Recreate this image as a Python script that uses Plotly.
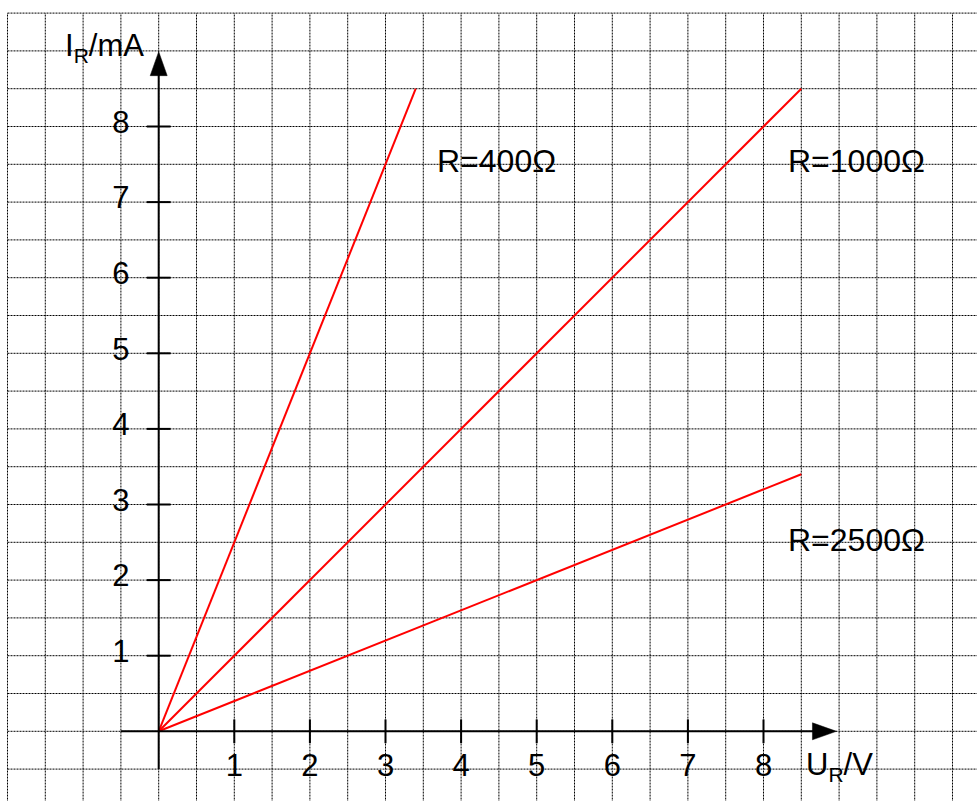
import plotly.graph_objects as go

# ---- data ----
u_r400 = [0, 3.4]
i_r400 = [0, 8.5]
u_r1000 = [0, 8.5]
i_r1000 = [0, 8.5]
u_r2500 = [0, 8.5]
i_r2500 = [0, 3.4]

x_ticks = [1, 2, 3, 4, 5, 6, 7, 8]
y_ticks = [1, 2, 3, 4, 5, 6, 7, 8]
x_tick_labels = ["1", "2", "3", "4", "5", "6", "7", "8"]
y_tick_labels = ["1", "2", "3", "4", "5", "6", "7", "8"]

curve_labels = ["R=400Ω", "R=1000Ω", "R=2500Ω"]
curve_label_x = [4.47, 9.23, 9.23]
curve_label_y = [7.55, 7.55, 2.53]

# ---- layout geometry ----
W, H = 977, 801
PX = 75.6          # pixels per unit
OX, OY = 158.7, 731.3  # origin in pixels
xr = [-OX / PX, (W - OX) / PX]
yr = [(OY - H) / PX, OY / PX]

FONT = "Liberation Sans, Arial, Helvetica, sans-serif"

fig = go.Figure()

shapes = []
grid_line = dict(color="black", width=1, dash="2px,1px")
gx0, gy1 = -2.0, 9.5
k = 0
while gx0 + 0.5 * k <= xr[1]:
    xv = gx0 + 0.5 * k
    shapes.append(dict(type="line", xref="x", yref="y", x0=xv, x1=xv, y0=yr[0] - 0.1, y1=gy1,
                       line=grid_line, layer="below"))
    k += 1
k = 0
while gy1 - 0.5 * k >= yr[0]:
    yv = gy1 - 0.5 * k
    shapes.append(dict(type="line", xref="x", yref="y", x0=gx0, x1=xr[1] + 0.1, y0=yv, y1=yv,
                       line=grid_line, layer="below"))
    k += 1

# axis lines
shapes.append(dict(type="line", xref="x", yref="y", x0=-0.5, x1=8.7, y0=0, y1=0,
                   line=dict(color="black", width=2)))
shapes.append(dict(type="line", xref="x", yref="y", x0=0, x1=0, y0=-0.5, y1=8.7,
                   line=dict(color="black", width=2)))
# arrowheads
ah_len, ah_half = 24 / PX, 8.5 / PX
tipx, tipy = 8.965, 8.99
shapes.append(dict(type="path", xref="x", yref="y",
                   path=f"M {tipx} 0 L {tipx-ah_len} {ah_half} L {tipx-ah_len} {-ah_half} Z",
                   fillcolor="black", line=dict(color="black", width=0.5)))
shapes.append(dict(type="path", xref="x", yref="y",
                   path=f"M 0 {tipy} L {ah_half} {tipy-ah_len} L {-ah_half} {tipy-ah_len} Z",
                   fillcolor="black", line=dict(color="black", width=0.5)))

# resistor lines
for u, i in [(u_r400, i_r400), (u_r1000, i_r1000), (u_r2500, i_r2500)]:
    fig.add_trace(go.Scatter(x=u, y=i, mode="lines", line=dict(color="#ff0000", width=2),
                             hoverinfo="skip", showlegend=False))

# tick marks
fig.add_trace(go.Scatter(x=x_ticks, y=[0] * len(x_ticks), mode="markers",
                         marker=dict(symbol="line-ns", size=17, line=dict(color="black", width=2)),
                         hoverinfo="skip", showlegend=False))
fig.add_trace(go.Scatter(x=[0] * len(y_ticks), y=y_ticks, mode="markers",
                         marker=dict(symbol="line-ew", size=17, line=dict(color="black", width=2)),
                         hoverinfo="skip", showlegend=False))

# tick labels
fig.add_trace(go.Scatter(x=x_ticks, y=[-0.49] * len(x_ticks), mode="text", text=x_tick_labels,
                         textposition="middle center",
                         textfont=dict(family=FONT, size=31, color="black"),
                         hoverinfo="skip", showlegend=False))
fig.add_trace(go.Scatter(x=[-0.5] * len(y_ticks), y=[v + 0.02 for v in y_ticks], mode="text",
                         text=y_tick_labels, textposition="middle center",
                         textfont=dict(family=FONT, size=31, color="black"),
                         hoverinfo="skip", showlegend=False))

annotations = []
for t, x, y in zip(curve_labels, curve_label_x, curve_label_y):
    annotations.append(dict(x=x, y=y, xref="x", yref="y", text=t, showarrow=False,
                            xanchor="center", yanchor="middle",
                            font=dict(family=FONT, size=32, color="black")))
annotations.append(dict(x=-1.27, y=9.04, xref="x", yref="y",
                        text="I<sub><span style='font-size:21px'>R</span></sub>/mA",
                        showarrow=False, xanchor="left", yanchor="middle",
                        font=dict(family=FONT, size=31, color="black")))
annotations.append(dict(x=8.53, y=-0.466, xref="x", yref="y",
                        text="U<sub><span style='font-size:21px'>R</span></sub>/V",
                        showarrow=False, xanchor="left", yanchor="middle",
                        font=dict(family=FONT, size=31, color="black")))

fig.update_layout(
    width=W, height=H,
    margin=dict(l=0, r=0, t=0, b=0),
    paper_bgcolor="white", plot_bgcolor="white",
    xaxis=dict(range=xr, visible=False, fixedrange=True),
    yaxis=dict(range=yr, visible=False, fixedrange=True),
    shapes=shapes, annotations=annotations,
    showlegend=False,
)

fig.write_html("out.html", config={"displayModeBar": False},
               post_script="document.body.style.margin='0';document.body.style.overflow='hidden';")
